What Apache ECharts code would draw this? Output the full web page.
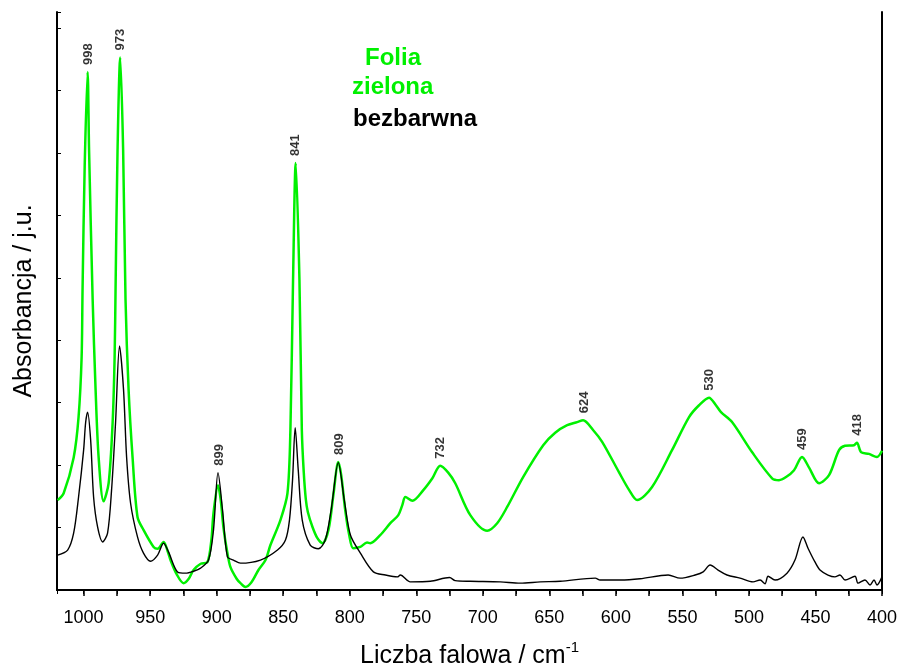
<!DOCTYPE html>
<html>
<head>
<meta charset="utf-8">
<script src="https://cdn.jsdelivr.net/npm/echarts@6/dist/echarts.min.js"></script>
<style>
  html, body { margin: 0; padding: 0; background: #fff; }
  #chart { width: 899px; height: 665px; }
</style>
</head>
<body>
<div id="chart"></div>
<script>
// wavenumber (cm-1) and absorbance (a.u.)
const greenWn = [1019.5, 1015, 1007.5, 1003.8, 1001.5, 1000.8, 999.2, 997, 995.9, 993.2, 991, 988.7, 985,
  981.2, 978.2, 976.7, 976, 974.5, 972.5, 970.3, 968.5, 966.2, 963.2, 959.5, 954.9, 947.4, 944.4, 939.9,
  936.5, 934.7, 930, 924.9, 921, 917.4, 912, 906.9, 904, 902.4, 899, 897, 894.9, 892, 889.7, 885, 882.1,
  878.4, 874, 868.6, 863.3, 859.6, 852.1, 846.8, 844.6, 842.6, 840.6, 837.8, 836, 834.6, 833, 831.5, 828,
  824.3, 820.5, 816, 812.3, 808.6, 806.4, 803.4, 800.4, 797.4, 792.1, 787, 784.6, 777.1, 769.5, 763.5, 760.5,
  758.2, 752.9, 744.7, 737.9, 732, 726, 720.7, 709.4, 696.7, 689.2, 681.7, 669.7, 654.6, 645.6, 636.6, 629.1,
  624.6, 617, 610.2, 597.5, 590, 584, 572.8, 557.8, 545, 537.5, 530, 524.8, 521, 512.7, 497.7, 482.6,
  477.4, 472.1, 466.1, 460.1, 454.8, 447.3, 439.8, 432.3, 427.8, 421, 418.8, 415.8, 409.8, 403.8, 400];
const greenAbs = [1.44, 1.55, 2.12, 2.77, 3.73, 4.81, 6.78, 8.30, 7.05, 4.65, 3.21, 2.12, 1.42,
  1.71, 2.68, 3.73, 4.81, 7.05, 8.53, 7.05, 4.65, 3.21, 2.12, 1.17, 0.96, 0.69, 0.66, 0.77,
  0.60, 0.48, 0.25, 0.11, 0.18, 0.32, 0.42, 0.45, 0.80, 1.23, 1.68, 1.45, 1.00, 0.60, 0.37, 0.18, 0.11,
  0.05, 0.12, 0.32, 0.48, 0.72, 1.12, 1.55, 2.56, 4.97, 6.84, 4.97, 2.56, 1.90, 1.45, 1.25, 1.01,
  0.83, 0.75, 0.96, 1.52, 2.05, 1.84, 1.28, 0.88, 0.67, 0.69, 0.76, 0.75, 0.88, 1.07, 1.20, 1.36,
  1.49, 1.43, 1.60, 1.79, 1.99, 1.88, 1.71, 1.20, 0.95, 1.07, 1.33, 1.81, 2.32, 2.52, 2.64, 2.69,
  2.72, 2.56, 2.37, 1.88, 1.60, 1.44, 1.65, 2.24, 2.77, 2.96, 3.08, 2.96, 2.85, 2.69, 2.21, 1.79,
  1.76, 1.81, 1.92, 2.13, 1.96, 1.71, 1.84, 2.24, 2.31, 2.32, 2.36, 2.21, 2.18, 2.13, 2.23];

const blackWn = [1019.5, 1012, 1007.5, 1003.8, 1000, 998.5, 997, 994.7, 992.5, 989.5, 985.7, 982, 979,
  976, 973, 970, 967.7, 964.7, 959.5, 955, 949.7, 944.4, 939.9, 936.2, 929.4, 923.4, 917.4, 912.1, 906.1,
  902.4, 899, 895.6, 891.9, 887.4, 882.1, 867.1, 854.3, 848.3, 845.3, 843, 841, 838.7, 835.7, 829.7,
  823.6, 818.4, 814, 808.6, 804.1, 799.5, 792, 782.2, 773.2, 764.2, 762, 754.5, 739.4, 725, 720.7, 709.4,
  686.9, 671.9, 656.8, 641.8, 615.5, 611.8, 596.7, 581.8, 560.7, 551.7, 540.4, 534.4, 529.2, 523.2,
  516.5, 506.7, 496.9, 491.6, 487.9, 485.6, 480.4, 471.4, 465.4, 459.4, 455.6, 450.4, 446.6, 440.6,
  435.4, 431.6, 427.8, 420.3, 418, 412.8, 409, 406, 403.8, 400];
const blackAbs = [0.56, 0.64, 0.91, 1.49, 2.24, 2.68, 2.85, 2.40, 1.49, 1.01, 0.77, 0.91, 1.60,
  2.68, 3.91, 3.21, 2.13, 1.39, 0.85, 0.59, 0.46, 0.56, 0.75, 0.61, 0.29, 0.27, 0.30, 0.35, 0.48,
  0.96, 1.88, 1.28, 0.53, 0.48, 0.43, 0.48, 0.64, 0.80, 1.12, 1.76, 2.60, 1.92, 1.12, 0.72,
  0.66, 0.80, 1.28, 2.04, 1.44, 0.88, 0.59, 0.29, 0.24, 0.21, 0.24, 0.13, 0.14, 0.20, 0.15, 0.14,
  0.13, 0.11, 0.13, 0.14, 0.19, 0.16, 0.16, 0.18, 0.24, 0.19, 0.24, 0.29, 0.40, 0.32,
  0.24, 0.19, 0.13, 0.16, 0.10, 0.22, 0.16, 0.27, 0.48, 0.85, 0.67, 0.45, 0.32, 0.24,
  0.21, 0.24, 0.16, 0.22, 0.11, 0.16, 0.08, 0.16, 0.08, 0.21];

// band labels: text, wavenumber, absorbance of the band top
const peakNames = ['998', '973', '899', '841', '809', '732', '624', '530', '459', '418'];
const peakWn = [996.5, 972, 898, 840.5, 808, 731.5, 623.5, 529.5, 459.5, 418.5];
const peakAbs = [8.30, 8.53, 1.88, 6.84, 2.05, 1.99, 2.72, 3.08, 2.13, 2.36];

const xTicks = [400, 450, 500, 550, 600, 650, 700, 750, 800, 850, 900, 950, 1000];

const pair = (xs, ys) => xs.map((x, i) => [x, ys[i]]);

const chart = echarts.init(document.getElementById('chart'));
const axisColor = '#000';

chart.setOption({
  animation: false,
  backgroundColor: '#fff',
  grid: { left: 57, right: 17, top: 12, bottom: 75, outerBoundsMode: 'none', containLabel: false },
  xAxis: [
    {
      type: 'value', inverse: true, min: 400, max: 1020, interval: 25,
      name: 'Liczba falowa / cm{sup|-1}',
      nameLocation: 'middle', nameGap: 50,
      nameTextStyle: {
        fontFamily: 'Liberation Sans', fontSize: 25, color: '#000', lineHeight: 33,
        rich: { sup: { fontFamily: 'Liberation Sans', fontSize: 15, lineHeight: 15, verticalAlign: 'top', color: '#000' } }
      },
      axisLine: { lineStyle: { color: axisColor, width: 2 } },
      axisTick: { inside: false, length: 6, lineStyle: { color: axisColor, width: 1.5 } },
      axisLabel: {
        fontFamily: 'Liberation Sans', fontSize: 18, color: '#000', margin: 19,
        showMaxLabel: false,
        formatter: v => (xTicks.indexOf(v) >= 0 ? String(v) : '')
      },
      splitLine: { show: false }
    },
    {
      type: 'value', inverse: true, min: 400, max: 1020, interval: 25, position: 'top',
      axisLine: { lineStyle: { color: axisColor, width: 2 } },
      axisTick: { inside: true, length: 4, lineStyle: { color: axisColor, width: 1 } },
      axisLabel: { show: false },
      splitLine: { show: false }
    }
  ],
  yAxis: [
    {
      type: 'value', min: 0, max: 9.26, interval: 1,
      name: 'Absorbancja / j.u.',
      nameLocation: 'middle', nameGap: 20,
      nameTextStyle: { fontFamily: 'Liberation Sans', fontSize: 25, color: '#000' },
      axisLine: { show: true, lineStyle: { color: axisColor, width: 2 } },
      axisTick: { show: true, inside: true, length: 4, lineStyle: { color: axisColor, width: 1 } },
      axisLabel: { show: false },
      splitLine: { show: false }
    },
    {
      type: 'value', min: 0, max: 9.26, interval: 1, position: 'right',
      axisLine: { show: true, lineStyle: { color: axisColor, width: 2 } },
      axisTick: { show: false },
      axisLabel: { show: false },
      splitLine: { show: false }
    }
  ],
  graphic: [
    { type: 'text', x: 365, y: 58, style: { text: 'Folia', font: 'bold 24px "Liberation Sans"', fill: '#00f000', textVerticalAlign: 'middle' } },
    { type: 'text', x: 352, y: 87, style: { text: 'zielona', font: 'bold 24px "Liberation Sans"', fill: '#00f000', textVerticalAlign: 'middle' } },
    { type: 'text', x: 353, y: 119, style: { text: 'bezbarwna', font: 'bold 24px "Liberation Sans"', fill: '#000', textVerticalAlign: 'middle' } }
  ],
  series: [
    {
      name: 'zielona', type: 'line', data: pair(greenWn, greenAbs),
      showSymbol: false, smooth: 0.3,
      lineStyle: { color: '#00f000', width: 2.5 }, z: 2
    },
    {
      name: 'bezbarwna', type: 'line', data: pair(blackWn, blackAbs),
      showSymbol: false, smooth: 0.3,
      lineStyle: { color: '#000', width: 1.4 }, z: 3
    },
    {
      type: 'scatter', symbolSize: 0, z: 4,
      data: peakWn.map((w, i) => ({ value: [w, peakAbs[i]], name: peakNames[i] })),
      label: {
        show: true, position: 'top', distance: 7, rotate: 90,
        align: 'left', verticalAlign: 'middle',
        formatter: p => p.name,
        fontFamily: 'Liberation Sans', fontWeight: 'bold', fontSize: 13, color: '#000'
      }
    }
  ]
});
</script>
</body>
</html>
